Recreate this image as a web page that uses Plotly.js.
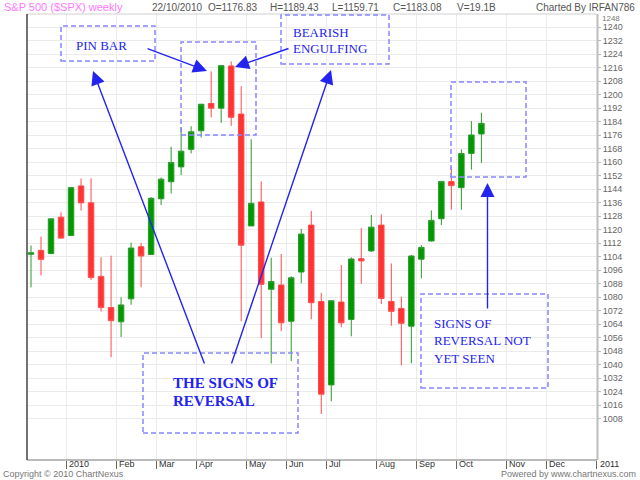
<!DOCTYPE html>
<html><head><meta charset="utf-8">
<script src="https://cdn.plot.ly/plotly-3.0.1.min.js"></script>
<style>html,body{margin:0;padding:0;background:#fff}#chart{width:640px;height:480px}</style>
</head><body><div id="chart"></div>
<script>
// Weekly bars (dated by the Friday of each week)
const weeks = ['2009-12-11','2009-12-18','2009-12-25','2010-01-01','2010-01-08','2010-01-15','2010-01-22','2010-01-29',
 '2010-02-05','2010-02-12','2010-02-19','2010-02-26','2010-03-05','2010-03-12','2010-03-19','2010-03-26',
 '2010-04-02','2010-04-09','2010-04-16','2010-04-23','2010-04-30','2010-05-07','2010-05-14','2010-05-21','2010-05-28',
 '2010-06-04','2010-06-11','2010-06-18','2010-06-25','2010-07-02','2010-07-09','2010-07-16','2010-07-23','2010-07-30',
 '2010-08-06','2010-08-13','2010-08-20','2010-08-27','2010-09-03','2010-09-10','2010-09-17','2010-09-24',
 '2010-10-01','2010-10-08','2010-10-15','2010-10-22'];
const openP  = [1105.5,1107.8,1106.0,1127.5,1116.6,1146.0,1136.0,1092.4,1073.9,1065.5,1079.1,1110.0,1105.4,1138.4,1148.5,1157.3,
 1167.7,1178.7,1194.9,1192.1,1217.1,1188.6,1122.3,1136.5,1084.8,1087.3,1065.8,1095.0,1122.8,1077.5,1028.1,1077.2,1066.9,1102.9,
 1107.5,1122.8,1077.6,1073.4,1062.9,1102.6,1113.4,1126.6,1148.6,1145.0,1165.3,1176.8];
const highP  = [1110.7,1116.0,1126.5,1130.4,1145.4,1150.4,1150.5,1103.7,1104.7,1080.0,1112.4,1112.3,1139.4,1151.0,1169.2,1180.7,
 1181.4,1194.7,1213.9,1217.3,1219.8,1205.1,1173.6,1148.7,1103.5,1105.7,1092.5,1120.5,1131.2,1082.6,1078.2,1099.1,1103.7,1121.0,
 1128.8,1129.2,1100.1,1080.4,1105.1,1110.9,1131.5,1148.9,1157.2,1167.7,1184.4,1189.4];
const lowP   = [1085.9,1093.0,1105.5,1114.8,1116.6,1131.4,1090.2,1071.6,1044.5,1056.5,1075.6,1086.0,1105.4,1134.7,1141.5,1152.4,
 1165.3,1174.7,1186.6,1183.4,1181.6,1065.8,1122.3,1055.9,1040.8,1060.0,1042.2,1088.3,1067.0,1010.9,1018.4,1062.3,1056.9,1088.0,
 1107.0,1076.0,1063.1,1039.7,1040.9,1091.2,1113.0,1122.8,1131.9,1131.9,1155.7,1159.7];
const closeP = [1106.4,1102.5,1126.5,1115.1,1145.0,1136.0,1091.8,1073.9,1066.2,1075.5,1109.2,1104.5,1138.7,1150.0,1159.9,1166.6,
 1178.1,1194.4,1192.1,1217.3,1186.7,1110.9,1135.7,1087.7,1089.4,1064.9,1091.6,1117.5,1076.8,1022.6,1078.0,1064.9,1102.7,1101.6,
 1121.6,1079.3,1071.7,1064.6,1104.5,1109.6,1125.6,1148.7,1146.2,1165.2,1176.2,1183.1];
const headerOHLC = {date:'22/10/2010', O:'1176.83', H:'1189.43', L:'1159.71', C:'1183.08', V:'19.1B'};
const monthNames = ['Jan','Feb','Mar','Apr','May','Jun','Jul','Aug','Sep','Oct','Nov','Dec'];
const yTickValues = []; for (let v = 1008; v <= 1240; v += 8) yTickValues.push(v);

const xIdx = weeks.map((_, i) => i);

// month ticks: first weekly bar (Friday date) of each month, drawn at the bar's right half
const tickPos = [], tickText = [];
{
  const start = new Date(weeks[0] + 'T00:00:00Z');
  let prevM = start.getUTCMonth();
  for (let i = 1; i <= 57; i++) {
    const d = new Date(start.getTime() + i * 7 * 86400000);
    const m = d.getUTCMonth();
    if (m !== prevM) {
      tickPos.push(i + 0.5);
      tickText.push(m === 0 ? String(d.getUTCFullYear()) : monthNames[m]);
    }
    prevM = m;
  }
}

const L = 27, R = 597, T = 14, B = 460;
const px = x => (x - L) / (R - L);
const py = y => (B - y) / (B - T);

const trace = {
  type: 'candlestick', x: xIdx, open: openP, high: highP, low: lowP, close: closeP,
  increasing: {line: {color: '#2a9a2a', width: 1}, fillcolor: '#009900'},
  decreasing: {line: {color: '#ff4a4a', width: 1}, fillcolor: '#ff3333'},
  whiskerwidth: 0, hoverinfo: 'none', showlegend: false
};

const blue = '#2424f0';
const dashCol = '#8686ff';
const serif = 'Liberation Serif, Times New Roman, serif';
const sans = 'Liberation Sans, Arial, sans-serif';

const annotations = [];
function txt(text, x, y, size, color, opts) {
  annotations.push(Object.assign({
    text: text, xref: 'paper', yref: 'paper', x: px(x), y: py(y), xanchor: 'left', yanchor: 'middle',
    showarrow: false, font: {family: sans, size: size, color: color}
  }, opts || {}));
}
// header
txt('S&amp;P 500 ($SPX) weekly', 2, 7, 11, '#ff78ff');
txt(headerOHLC.date, 150, 7, 10, '#555');
txt('O=' + headerOHLC.O, 206, 7, 10, '#555');
txt('H=' + headerOHLC.H, 268, 7, 10, '#555');
txt('L=' + headerOHLC.L, 330, 7, 10, '#555');
txt('C=' + headerOHLC.C, 391, 7, 10, '#555');
txt('V=' + headerOHLC.V, 455, 7, 10, '#555');
txt('Charted By IRFAN786', 637, 7, 10, '#555', {xanchor: 'right'});
// footer
txt('Copyright © 2010 ChartNexus', 1, 474, 9, '#777');
txt('Powered by www.chartnexus.com', 638, 474, 9, '#777', {xanchor: 'right'});
// top label of the price scale (partly hidden under the header in the original)
txt('1248', 600, 18, 8, '#777');
// x tick labels (to the right of each tick)
tickPos.forEach((p, i) => {
  annotations.push({text: tickText[i], xref: 'x', yref: 'paper', x: p, y: py(464), xanchor: 'left', yanchor: 'middle',
    xshift: 1, showarrow: false, font: {family: sans, size: 9, color: '#333'}});
});
// callout texts
function stext(text, x, y, size, bold) {
  txt(bold ? '<b>' + text + '</b>' : text, x, y, size, blue, {font: {family: serif, size: size, color: blue}});
}
stext('PIN BAR', 74, 46, 13);
stext('BEARISH', 291, 32, 13);
stext('ENGULFING', 291, 48, 13);
stext('THE SIGNS OF', 171, 383, 15, true);
stext('REVERSAL', 171, 401, 15, true);
stext('SIGNS OF', 432, 323, 13);
stext('REVERSAL NOT', 432, 340, 13);
stext('YET SEEN', 432, 358, 13);
// arrows: tip (x,y), tail (tx,ty)
function arrow(x, y, tx, ty) {
  annotations.push({text: '', xref: 'paper', yref: 'paper', x: px(x), y: py(y), ax: tx - x, ay: ty - y,
    showarrow: true, arrowhead: 2, arrowsize: 2, arrowwidth: 1.4, arrowcolor: blue});
}
arrow(207, 71, 146, 48);
arrow(235, 67, 290, 48);
arrow(93, 71, 205, 365);
arrow(331, 70, 231, 365);
arrow(487.5, 183, 487.5, 310);

const shapes = [];
function box(x0, y0, x1, y1) {
  shapes.push({type: 'rect', xref: 'paper', yref: 'paper', x0: px(x0), x1: px(x1), y0: py(y1), y1: py(y0),
    line: {color: dashCol, width: 1.5, dash: '5px,3px'}, layer: 'above'});
}
function line(x0, y0, x1, y1, color, w) {
  shapes.push({type: 'line', xref: 'paper', yref: 'paper', x0: px(x0), x1: px(x1), y0: py(y0), y1: py(y1),
    line: {color: color, width: w}, layer: 'above'});
}
line(L, T, R, T, '#cfcfcf', 1);
line(R + 0.5, T, R + 0.5, B, '#bdbdbd', 2);
line(L, B, R, B, '#777', 1);
line(L, T, L, B, '#444', 1.5);
box(61, 26, 155, 61);
box(181, 42, 256, 135);
box(281, 15, 389, 64);
box(143, 353, 298, 433);
box(451, 82, 526, 177);
box(421, 294, 548, 388);

const layout = {
  width: 640, height: 480,
  margin: {l: L, r: 640 - R, t: T, b: 480 - B},
  paper_bgcolor: '#fff', plot_bgcolor: '#fff',
  showlegend: false,
  boxgap: 0.22,
  xaxis: {range: [-0.4, 56.55], tickvals: tickPos, ticktext: tickText, showticklabels: false,
    ticks: 'outside', ticklen: 8, tickcolor: '#666', tickwidth: 1,
    showgrid: true, gridcolor: '#ebebeb', gridwidth: 1, zeroline: false, showline: false,
    rangeslider: {visible: false}, fixedrange: true},
  yaxis: {side: 'right', range: [983.6, 1247.9], tickvals: yTickValues, ticktext: yTickValues.map(String),
    ticks: 'outside', ticklen: 3, tickcolor: '#bbb', tickfont: {family: sans, size: 9, color: '#666'},
    showgrid: true, gridcolor: '#ebebeb', zeroline: false, showline: false, fixedrange: true},
  annotations: annotations, shapes: shapes
};
Plotly.newPlot('chart', [trace], layout, {displayModeBar: false, staticPlot: true});
</script></body></html>
